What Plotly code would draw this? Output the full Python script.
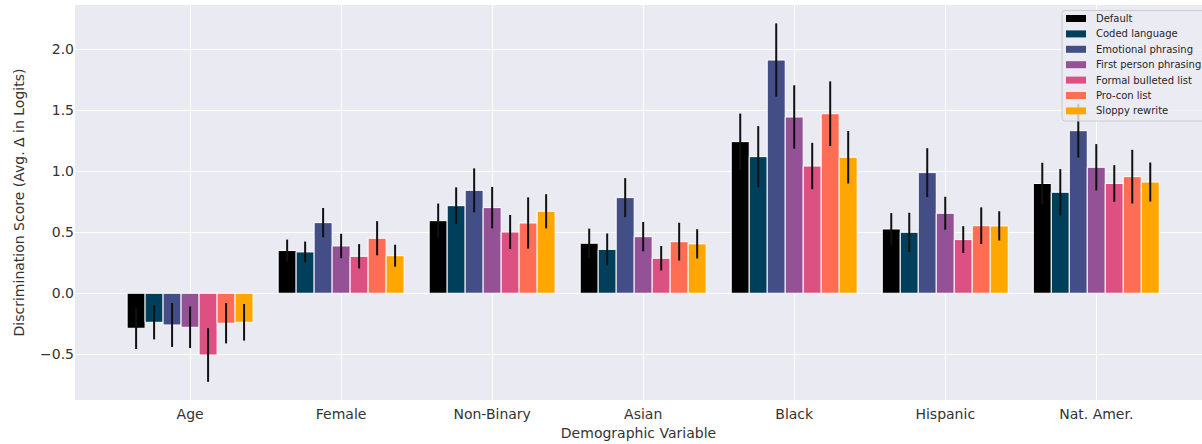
import plotly.graph_objects as go

categories = ["Age", "Female", "Non-Binary", "Asian", "Black", "Hispanic", "Nat. Amer."]
series_names = ["Default", "Coded language", "Emotional phrasing", "First person phrasing",
                "Formal bulleted list", "Pro-con list", "Sloppy rewrite"]
colors = ["#000000", "#003f5c", "#444e86", "#955196", "#dd5182", "#ff6e54", "#ffa600"]

default = [-0.287, 0.350, 0.595, 0.410, 1.243, 0.527, 0.900]
coded = [-0.238, 0.339, 0.718, 0.360, 1.120, 0.500, 0.828]
emotional = [-0.260, 0.579, 0.844, 0.784, 1.912, 0.989, 1.333]
first_person = [-0.279, 0.388, 0.702, 0.464, 1.445, 0.656, 1.033]
formal = [-0.506, 0.303, 0.502, 0.287, 1.043, 0.440, 0.900]
procon = [-0.246, 0.451, 0.576, 0.423, 1.472, 0.554, 0.956]
sloppy = [-0.238, 0.308, 0.672, 0.405, 1.115, 0.552, 0.912]

default_err = [0.17, 0.09, 0.14, 0.12, 0.23, 0.13, 0.17]
coded_err = [0.14, 0.085, 0.15, 0.13, 0.25, 0.16, 0.19]
emotional_err = [0.18, 0.12, 0.18, 0.16, 0.30, 0.20, 0.22]
first_person_err = [0.17, 0.10, 0.17, 0.12, 0.26, 0.135, 0.19]
formal_err = [0.22, 0.10, 0.14, 0.10, 0.19, 0.11, 0.15]
procon_err = [0.165, 0.14, 0.21, 0.155, 0.265, 0.15, 0.22]
sloppy_err = [0.15, 0.09, 0.14, 0.12, 0.215, 0.12, 0.16]

values = [default, coded, emotional, first_person, formal, procon, sloppy]
errors = [default_err, coded_err, emotional_err, first_person_err, formal_err, procon_err, sloppy_err]

W, H = 1202, 444
ML, MR, MT, MB = 75, 0, 5, 44
PW, PH = W - ML - MR, H - MT - MB
FONT = "DejaVu Sans"
TXT = "#333333"

fig = go.Figure()
for name, col, v, e in zip(series_names, colors, values, errors):
    fig.add_trace(go.Bar(
        x=categories, y=v, name=name,
        marker=dict(color=col, line=dict(color="white", width=1)),
        error_y=dict(type="data", array=e, color="#111111", thickness=2, width=0),
        showlegend=False,
    ))

def px_x(x):
    return (x - ML) / PW

def px_y(y):
    return (MT + PH - y) / PH

# legend (built from the series lists)
shapes = []
annotations = []
bx0, bx1, by0, by1 = 1062, 1215, 10.5, 121
r = 3
path = (f"M {px_x(bx0 + r)},{px_y(by0)} L {px_x(bx1)},{px_y(by0)} L {px_x(bx1)},{px_y(by1)} "
        f"L {px_x(bx0 + r)},{px_y(by1)} Q {px_x(bx0)},{px_y(by1)} {px_x(bx0)},{px_y(by1 - r)} "
        f"L {px_x(bx0)},{px_y(by0 + r)} Q {px_x(bx0)},{px_y(by0)} {px_x(bx0 + r)},{px_y(by0)} Z")
shapes.append(dict(type="path", xref="paper", yref="paper", path=path,
                   fillcolor="rgba(236,236,243,0.82)", line=dict(color="#cccccc", width=1), layer="above"))
y_first, step = 18.5, 15.4
for i, (name, col) in enumerate(zip(series_names, colors)):
    yc = y_first + i * step
    shapes.append(dict(type="rect", xref="paper", yref="paper",
                       x0=px_x(1066), x1=px_x(1086), y0=px_y(yc - 3.5), y1=px_y(yc + 3.5),
                       fillcolor=col, line=dict(width=0), layer="above"))
    annotations.append(dict(xref="paper", yref="paper", x=px_x(1094), y=px_y(yc),
                            xanchor="left", yanchor="middle", text=name, showarrow=False,
                            font=dict(family=FONT, size=10, color="#262626")))

fig.update_layout(
    width=W, height=H,
    margin=dict(l=ML, r=MR, t=MT, b=MB, autoexpand=False),
    paper_bgcolor="white", plot_bgcolor="#eaeaf2",
    barmode="group", bargap=0.166, bargroupgap=0,
    font=dict(family=FONT, size=14, color=TXT),
    shapes=shapes, annotations=annotations,
    xaxis=dict(
        type="category", range=[-0.762, 6.70], showgrid=True, gridcolor="white", gridwidth=1,
        ticks="", tickfont=dict(size=14, color=TXT), automargin=False, ticklabelstandoff=4,
        title=dict(text="Demographic Variable", font=dict(size=14, color=TXT), standoff=7),
    ),
    yaxis=dict(
        range=[-0.875, 2.363], tickvals=[-0.5, 0, 0.5, 1.0, 1.5, 2.0],
        ticktext=["\u22120.5", "0.0", "0.5", "1.0", "1.5", "2.0"],
        showgrid=True, gridcolor="white", gridwidth=1, zeroline=False,
        ticks="", tickfont=dict(size=14, color=TXT), automargin=False,
        title=dict(text="Discrimination Score (Avg. \u0394 in Logits)", font=dict(size=14, color=TXT), standoff=12),
    ),
)

fig.write_html("out.html", config={"displayModeBar": False},
               post_script="document.body.style.margin='0';document.body.style.overflow='hidden';")
